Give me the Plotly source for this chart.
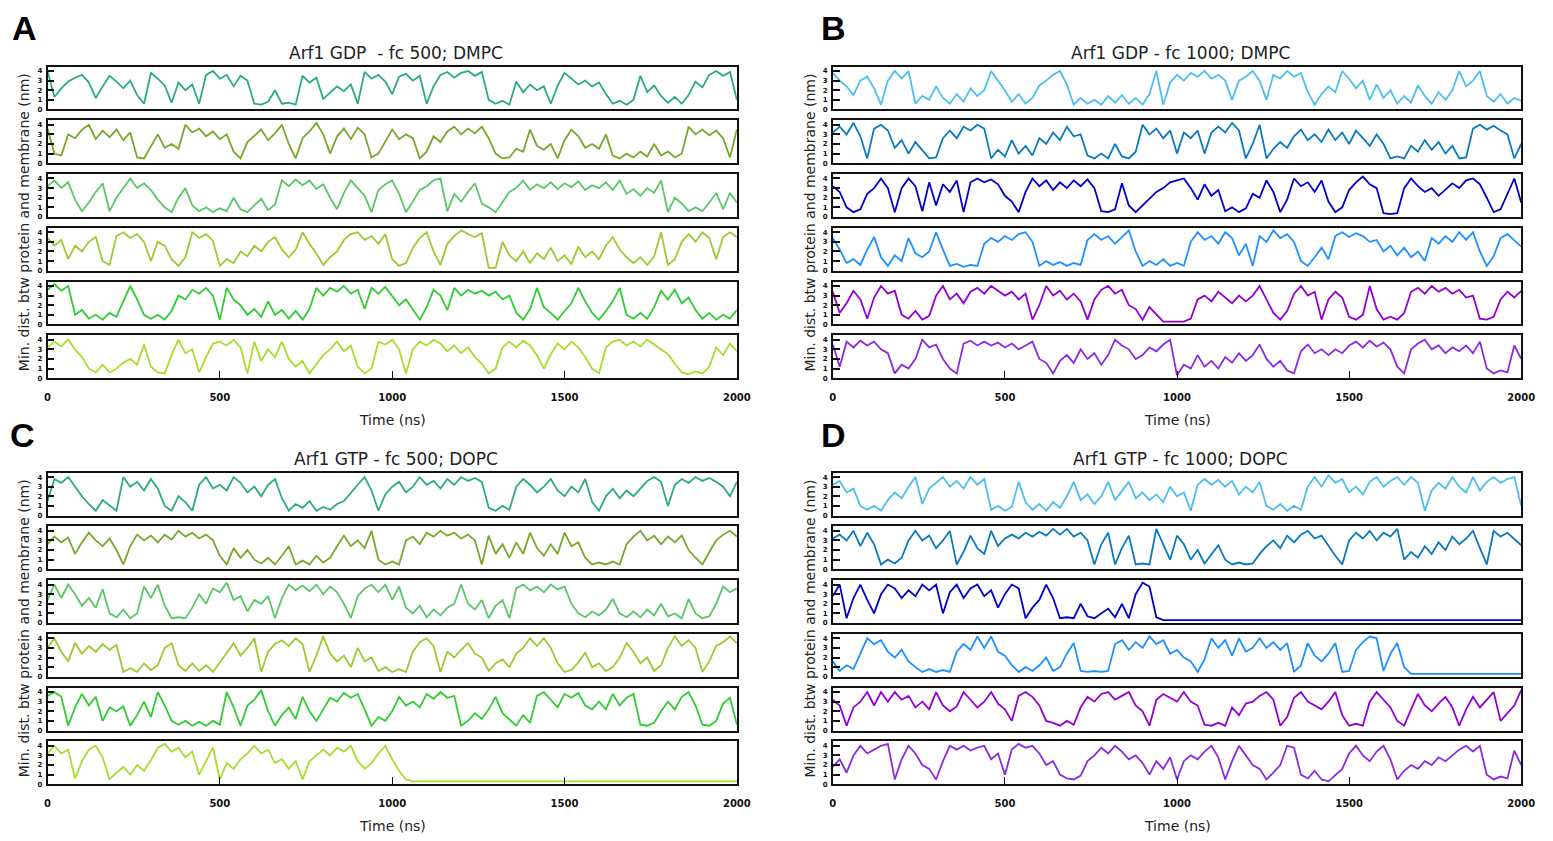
import plotly.graph_objects as go

W, H = 1553, 841

# Sampling times (ns) shared by every trajectory
time_ns = list(range(0, 2001, 20))

# ---- Arf1 GDP, fc 500, DMPC: six replicas (nm) ----
gdp500_r1 = [4.0, 1.3, 2.2, 2.9, 3.3, 3.6, 2.8, 1.2, 2.4, 3.5,
             2.9, 2.2, 3.0, 1.5, 0.6, 3.8, 3.2, 2.5, 0.7, 2.8,
             2.0, 2.6, 0.6, 3.6, 4.0, 3.2, 3.6, 2.4, 3.5, 3.0,
             0.6, 0.5, 0.8, 2.0, 0.6, 0.7, 0.5, 3.5, 2.8, 3.3,
             1.1, 1.8, 2.4, 1.9, 2.6, 0.6, 3.9, 3.2, 3.6, 2.9,
             1.6, 3.4, 3.7, 3.0, 3.5, 0.6, 2.4, 3.6, 3.9, 3.3,
             3.8, 4.0, 3.5, 3.9, 1.0, 0.6, 0.9, 0.5, 2.9, 1.8,
             2.6, 2.0, 2.4, 0.6, 2.5, 3.8, 3.2, 2.6, 3.0, 2.4,
             2.8, 1.6, 0.6, 0.9, 0.5, 1.0, 3.5, 1.8, 2.5, 1.4,
             0.7, 1.3, 0.6, 1.5, 2.9, 2.3, 3.6, 4.0, 3.5, 3.9,
             1.0]
gdp500_r2 = [3.6, 1.0, 0.8, 3.0, 2.6, 3.5, 4.0, 2.5, 3.4, 2.7,
             3.5, 2.4, 3.2, 0.6, 0.5, 1.8, 3.0, 1.6, 2.0, 1.5,
             4.0, 3.2, 3.6, 2.8, 3.3, 2.5, 3.0, 1.2, 0.5, 2.2,
             2.8, 3.5, 2.4, 3.1, 4.0, 2.0, 0.5, 2.6, 3.3, 4.2,
             3.0, 1.0, 2.8, 3.6, 2.5, 3.7, 3.0, 0.6, 1.0, 2.2,
             3.5, 2.5, 3.0, 2.6, 0.5, 1.2, 2.8, 2.2, 3.3, 3.8,
             3.0, 3.6, 3.1, 3.8, 2.6, 1.0, 0.5, 0.6, 1.5, 1.2,
             3.5, 1.8, 1.4, 2.0, 0.5, 2.4, 3.5, 2.8, 1.6, 2.0,
             1.5, 3.0, 0.8, 0.5, 1.0, 0.6, 1.2, 0.7, 2.0, 0.8,
             1.2, 0.6, 1.0, 3.8, 3.0, 3.5, 2.9, 3.4, 2.6, 0.6,
             3.5]
gdp500_r3 = [3.2, 3.8, 3.0, 3.6, 1.8, 0.6, 1.5, 2.6, 3.5, 0.6,
             2.0, 3.0, 4.0, 3.0, 3.5, 2.8, 1.8, 1.0, 0.5, 2.0,
             3.0, 1.2, 0.6, 1.0, 0.5, 0.9, 0.6, 2.0, 0.8, 0.5,
             1.2, 1.9, 0.7, 1.3, 3.8, 3.2, 3.9, 3.3, 3.8, 2.9,
             3.4, 2.0, 0.8, 2.5, 3.8, 3.0, 2.2, 0.5, 2.8, 3.4,
             3.8, 2.4, 0.5, 1.6, 2.8, 3.2, 3.8, 4.0, 0.6, 2.4,
             1.6, 2.6, 3.5, 1.4, 1.0, 0.5, 1.5, 2.6, 3.0, 3.8,
             2.8, 3.4, 3.0, 3.6, 2.9, 3.5, 3.1, 3.7, 2.8, 3.3,
             3.0, 3.6, 2.8, 3.8, 2.4, 2.9, 2.2, 3.0, 2.5, 3.8,
             0.5, 2.0, 1.4, 0.6, 1.0, 0.6, 1.5, 2.5, 0.8, 2.5,
             1.5]
gdp500_r4 = [3.4, 2.6, 3.2, 1.2, 2.6, 2.0, 3.0, 3.5, 1.0, 0.6,
             3.6, 4.0, 3.4, 3.8, 3.0, 1.0, 3.0, 2.6, 1.2, 0.5,
             1.4, 4.0, 3.4, 3.8, 3.1, 0.5, 1.2, 0.8, 2.0, 1.5,
             2.6, 2.0, 3.0, 3.5, 2.2, 1.4, 2.2, 4.0, 2.8, 1.8,
             0.6, 1.4, 2.0, 3.2, 3.8, 4.0, 3.2, 3.6, 2.8, 3.8,
             1.2, 0.5, 0.8, 2.4, 3.4, 4.0, 2.0, 0.6, 2.8, 3.6,
             4.2, 3.8, 3.5, 3.9, 0.3, 0.3, 3.0, 1.6, 1.0, 2.0,
             0.8, 1.8, 1.2, 2.4, 1.0, 1.6, 0.7, 2.5, 1.4, 2.0,
             1.2, 2.6, 3.5, 2.2, 1.4, 0.8, 1.4, 0.6, 1.5, 4.0,
             0.6, 1.2, 3.0, 3.8, 3.0, 4.0, 3.4, 1.2, 3.5, 4.0,
             3.5]
gdp500_r5 = [3.6, 4.2, 3.5, 4.0, 1.0, 1.5, 0.6, 1.0, 0.5, 1.2,
             0.8, 2.5, 4.0, 2.6, 1.0, 0.6, 1.0, 0.5, 1.4, 3.0,
             2.6, 3.6, 3.2, 3.8, 3.0, 0.5, 3.8, 2.6, 2.0, 1.0,
             1.6, 0.8, 2.4, 1.0, 1.5, 0.6, 1.4, 0.5, 1.6, 3.8,
             3.0, 3.8, 3.4, 4.0, 3.2, 3.6, 1.6, 3.8, 3.2, 3.9,
             3.0, 2.0, 2.6, 1.5, 0.5, 1.8, 3.6, 3.0, 1.5, 3.8,
             3.0, 3.6, 3.2, 3.5, 3.0, 3.4, 2.6, 3.0, 1.2, 0.5,
             1.6, 3.8, 1.8, 1.2, 0.5, 1.4, 2.2, 3.8, 2.4, 1.2,
             0.5, 1.4, 2.4, 3.8, 1.0, 0.6, 1.2, 0.6, 1.8, 3.5,
             2.6, 3.6, 2.2, 2.8, 1.5, 0.6, 1.2, 0.5, 1.0, 0.6,
             1.5]
gdp500_r6 = [3.2, 3.8, 3.3, 4.0, 3.0, 2.2, 1.0, 0.6, 1.4, 0.6,
             1.0, 1.6, 2.0, 1.4, 3.5, 1.2, 0.6, 0.5, 2.4, 4.0,
             2.6, 3.0, 0.6, 2.2, 3.6, 3.8, 3.4, 4.0, 3.2, 0.5,
             3.8, 1.8, 3.0, 2.2, 3.8, 2.0, 1.2, 1.8, 0.5, 1.4,
             2.4, 3.0, 3.8, 2.8, 3.4, 1.2, 0.5, 1.0, 3.8, 3.5,
             4.0, 3.0, 0.5, 3.0, 3.8, 3.4, 4.0, 3.6, 2.8, 3.4,
             2.6, 3.2, 2.2, 1.5, 0.5, 1.0, 3.2, 3.8, 3.2, 3.9,
             3.4, 2.4, 1.0, 2.5, 3.6, 3.0, 3.8, 3.2, 2.2, 1.0,
             0.5, 3.2, 3.8, 4.0, 3.4, 3.8, 3.3, 4.0, 3.5, 3.0,
             2.5, 1.5, 0.6, 0.4, 0.7, 0.5, 1.2, 3.2, 2.4, 3.6,
             2.8]

# ---- Arf1 GDP, fc 1000, DMPC ----
gdp1000_r1 = [3.8, 3.0, 2.4, 1.5, 3.0, 3.4, 2.2, 0.5, 3.0, 4.0,
              3.2, 4.0, 0.6, 1.4, 1.0, 2.4, 1.2, 0.6, 1.6, 0.8,
              2.2, 1.4, 2.0, 4.0, 3.0, 2.0, 0.8, 1.6, 0.6, 1.2,
              2.5, 3.0, 3.6, 4.0, 2.6, 0.5, 1.2, 0.6, 1.0, 0.5,
              1.4, 0.7, 1.5, 0.6, 1.2, 0.5, 1.6, 4.0, 0.5, 2.8,
              3.6, 3.0, 3.8, 3.4, 4.0, 3.2, 3.6, 3.0, 1.0, 3.0,
              3.4, 4.0, 3.0, 1.0, 3.6, 3.2, 4.0, 3.4, 3.8, 1.8,
              0.5, 1.6, 2.4, 1.8, 4.0, 3.2, 2.2, 3.0, 1.0, 2.6,
              1.2, 2.0, 0.6, 1.4, 0.7, 2.5, 1.4, 0.6, 1.8, 1.0,
              2.0, 4.0, 2.4, 3.0, 4.0, 1.4, 0.8, 1.6, 0.6, 1.2,
              0.9]
gdp1000_r2 = [3.2, 3.8, 3.0, 4.2, 2.8, 0.5, 3.6, 4.0, 3.4, 1.6,
              2.4, 1.0, 2.2, 1.4, 0.5, 0.6, 2.6, 3.4, 2.6, 3.8,
              3.4, 4.0, 3.6, 0.5, 1.4, 0.7, 2.4, 1.0, 1.8, 0.8,
              2.6, 2.0, 3.2, 2.4, 3.8, 2.8, 3.0, 0.8, 0.5, 1.0,
              0.5, 2.0, 0.7, 0.5, 1.2, 4.0, 3.0, 3.6, 2.6, 3.4,
              1.0, 3.2, 2.6, 3.4, 1.0, 3.2, 3.8, 3.2, 4.2, 3.4,
              0.5, 2.0, 4.0, 0.5, 1.5, 2.2, 1.6, 2.8, 3.5, 2.4,
              3.0, 2.2, 3.5, 2.4, 3.2, 2.0, 3.4, 2.6, 1.8, 3.0,
              2.0, 0.5, 0.7, 0.5, 1.8, 1.2, 2.4, 1.4, 2.2, 1.0,
              1.8, 0.5, 0.6, 3.6, 4.0, 3.5, 3.9, 3.4, 3.0, 0.5,
              2.0]
gdp1000_r3 = [3.2, 2.6, 1.0, 0.5, 0.8, 2.4, 3.0, 4.0, 3.0, 0.5,
              3.0, 4.0, 3.2, 0.6, 3.6, 1.2, 3.4, 2.6, 3.8, 0.5,
              3.6, 4.0, 3.6, 3.9, 3.4, 2.2, 1.6, 0.5, 2.6, 4.0,
              3.2, 3.8, 2.8, 3.6, 3.0, 3.8, 3.2, 3.9, 3.0, 0.6,
              0.5, 0.8, 3.5, 1.2, 0.5, 1.2, 2.0, 2.6, 3.0, 3.6,
              3.8, 4.0, 3.0, 1.8, 3.4, 2.2, 2.8, 0.6, 1.0, 0.5,
              0.9, 2.4, 2.0, 3.8, 2.6, 0.5, 1.8, 4.0, 3.2, 3.6,
              2.6, 3.8, 1.6, 0.5, 1.0, 2.8, 3.6, 4.2, 3.4, 3.0,
              0.4, 0.3, 0.4, 3.0, 4.0, 3.2, 2.6, 3.0, 2.2, 2.8,
              3.5, 3.0, 3.8, 4.0, 3.4, 2.0, 0.5, 0.8, 2.4, 4.0,
              1.5]
gdp1000_r4 = [3.4, 2.2, 0.8, 1.2, 0.6, 2.2, 3.5, 1.4, 0.5, 1.6,
              1.0, 3.4, 1.8, 1.4, 2.0, 4.0, 2.2, 0.5, 0.7, 0.4,
              0.6, 0.5, 2.8, 3.4, 3.0, 3.6, 3.2, 3.8, 4.0, 3.0,
              0.5, 1.0, 0.6, 0.9, 0.5, 0.8, 0.6, 3.2, 3.8, 3.2,
              3.6, 2.8, 3.5, 4.2, 2.0, 0.5, 1.0, 0.6, 1.2, 0.5,
              0.8, 0.5, 3.0, 4.0, 3.2, 3.6, 2.8, 4.0, 3.4, 1.6,
              2.8, 0.5, 3.6, 3.0, 4.2, 3.4, 3.8, 3.0, 1.0, 0.5,
              1.4, 2.4, 1.2, 3.6, 4.0, 3.5, 3.9, 3.6, 3.0, 3.2,
              2.0, 2.6, 1.6, 2.4, 1.4, 2.0, 1.0, 3.4, 2.8, 3.6,
              3.0, 4.0, 3.2, 4.0, 2.0, 0.5, 1.5, 3.4, 3.8, 3.2,
              2.5]
gdp1000_r5 = [3.4, 1.2, 2.2, 3.5, 2.6, 0.6, 2.8, 4.0, 3.2, 3.5,
              1.0, 0.6, 1.4, 0.5, 0.9, 3.0, 4.0, 2.6, 3.2, 2.2,
              3.4, 3.8, 3.2, 4.0, 3.5, 3.0, 3.4, 2.6, 3.2, 0.5,
              2.0, 4.0, 3.0, 3.5, 2.6, 3.2, 2.4, 0.5, 2.6, 3.6,
              4.0, 3.2, 3.6, 2.0, 1.6, 0.5, 1.8, 1.0, 0.3, 0.3,
              0.3, 0.3, 0.6, 2.6, 3.0, 2.4, 3.4, 2.8, 2.2, 3.0,
              2.4, 3.0, 4.0, 2.6, 1.2, 0.5, 1.4, 3.2, 4.0, 3.0,
              3.4, 0.5, 2.6, 3.4, 2.8, 0.8, 0.5, 1.0, 4.0, 1.6,
              0.5, 0.8, 0.5, 1.2, 3.4, 3.8, 3.2, 4.0, 3.4, 3.8,
              3.2, 3.6, 2.8, 3.0, 0.6, 0.5, 0.8, 2.6, 3.4, 2.8,
              3.5]
gdp1000_r6 = [3.5, 1.2, 3.8, 3.2, 3.9, 3.4, 3.8, 3.0, 2.6, 0.5,
              1.4, 1.0, 2.0, 4.0, 3.2, 3.5, 2.0, 1.0, 0.5, 3.6,
              3.9, 3.4, 3.8, 3.4, 3.7, 3.2, 3.6, 3.0, 3.4, 3.8,
              2.0, 1.6, 0.5, 1.8, 2.4, 1.6, 3.0, 2.0, 2.6, 1.4,
              2.4, 4.0, 3.4, 3.0, 2.0, 2.4, 3.2, 2.8, 3.5, 4.0,
              0.3, 1.4, 1.0, 2.4, 1.2, 1.8, 1.0, 2.2, 1.6, 2.6,
              1.8, 2.4, 3.5, 2.0, 1.2, 1.8, 0.8, 0.5, 2.8, 3.5,
              2.6, 3.0, 2.4, 3.0, 2.6, 3.4, 3.8, 3.2, 3.9, 3.3,
              3.7, 3.0, 1.2, 0.5, 3.0, 3.6, 4.0, 3.0, 3.4, 2.6,
              3.2, 2.8, 3.4, 2.6, 3.8, 1.0, 0.5, 0.8, 0.6, 3.4,
              2.0]

# ---- Arf1 GTP, fc 500, DOPC ----
gtp500_r1 = [1.5, 3.8, 3.4, 4.0, 3.0, 2.0, 1.2, 0.5, 1.6, 1.0,
             0.5, 4.0, 3.0, 3.5, 2.6, 3.8, 2.8, 1.0, 0.5, 2.0,
             1.4, 0.5, 3.2, 4.0, 2.8, 3.2, 2.6, 4.0, 3.4, 2.4,
             3.0, 2.0, 3.2, 3.8, 1.8, 0.5, 1.2, 0.8, 1.5, 0.5,
             0.9, 0.6, 1.2, 1.5, 2.4, 3.2, 4.0, 2.6, 0.5, 2.2,
             3.0, 3.5, 2.4, 3.0, 4.0, 3.2, 3.6, 2.8, 3.8, 3.2,
             4.0, 3.6, 3.9, 3.5, 0.8, 0.5, 1.0, 0.6, 3.0, 3.8,
             3.2, 2.4, 3.0, 3.8, 2.6, 2.0, 3.0, 2.4, 3.8, 1.4,
             0.5, 2.0, 2.8, 1.8, 2.6, 2.0, 2.8, 3.6, 4.0, 3.5,
             1.0, 3.2, 3.8, 3.4, 4.0, 3.6, 3.9, 3.5, 3.0, 2.0,
             3.5]
gtp500_r2 = [2.6, 3.4, 2.8, 3.3, 1.6, 2.8, 3.8, 3.0, 2.4, 3.2,
             2.0, 0.5, 2.4, 3.6, 3.0, 3.5, 2.8, 3.6, 3.1, 4.0,
             3.4, 3.8, 3.2, 3.6, 3.0, 1.4, 0.5, 2.2, 1.2, 2.0,
             1.0, 0.6, 1.2, 0.5, 1.4, 2.4, 0.5, 0.9, 0.5, 1.4,
             0.7, 1.2, 2.4, 3.5, 2.4, 3.0, 2.2, 4.0, 1.0, 0.5,
             0.8, 0.5, 3.0, 3.4, 2.6, 3.8, 3.4, 4.0, 3.5, 3.8,
             3.2, 3.6, 3.0, 0.5, 3.5, 1.6, 2.6, 1.2, 2.8, 1.6,
             3.8, 2.2, 1.4, 2.6, 1.6, 3.8, 2.4, 2.8, 1.2, 0.5,
             0.7, 0.5, 0.8, 0.5, 2.6, 3.4, 4.0, 3.0, 3.5, 2.6,
             3.4, 2.8, 3.5, 2.0, 1.2, 0.5, 1.8, 3.0, 3.6, 4.0,
             3.4]
gtp500_r3 = [2.4, 4.0, 2.6, 4.0, 3.0, 1.8, 2.6, 1.6, 3.5, 1.0,
             0.6, 1.4, 0.5, 1.0, 3.8, 2.6, 4.0, 1.8, 0.5, 0.6,
             0.5, 1.6, 3.0, 2.0, 3.6, 3.2, 4.2, 2.4, 2.8, 1.2,
             2.4, 2.0, 2.8, 0.5, 2.6, 4.0, 3.4, 3.9, 3.3, 4.0,
             3.0, 3.8, 3.2, 2.0, 0.5, 2.8, 3.6, 4.0, 3.2, 4.0,
             2.4, 3.8, 1.6, 1.0, 1.8, 0.6, 1.4, 0.8, 1.6, 2.0,
             4.0, 2.0, 1.4, 2.4, 0.5, 1.8, 2.4, 0.5, 3.6, 4.0,
             3.4, 3.8, 3.2, 4.0, 3.5, 3.8, 2.0, 1.0, 0.6, 1.2,
             0.8, 1.4, 2.5, 1.0, 0.6, 1.2, 0.6, 1.4, 0.8, 2.0,
             0.7, 1.0, 0.5, 2.5, 1.0, 0.5, 0.7, 2.0, 3.8, 3.2,
             3.6]
gtp500_r4 = [3.0, 4.0, 2.6, 1.6, 3.5, 2.4, 3.2, 2.6, 3.4, 2.8,
             3.3, 0.5, 0.9, 0.5, 1.4, 0.7, 1.2, 3.0, 3.5, 1.2,
             0.6, 1.4, 0.6, 1.2, 0.5, 1.5, 2.6, 3.5, 2.2, 3.0,
             4.0, 0.5, 2.6, 3.4, 3.8, 3.2, 4.0, 3.4, 0.5, 2.2,
             4.2, 2.4, 1.6, 2.2, 1.0, 3.0, 1.6, 2.0, 0.6, 1.0,
             0.5, 0.8, 0.5, 2.6, 3.6, 4.0, 3.2, 0.5, 2.6, 2.0,
             2.8, 3.5, 2.4, 2.0, 0.6, 1.4, 1.8, 1.0, 2.4, 3.0,
             4.0, 3.2, 4.0, 3.0, 1.4, 0.5, 0.7, 1.5, 2.5, 1.0,
             1.4, 0.6, 1.0, 2.0, 3.5, 2.6, 1.4, 2.0, 0.6, 1.2,
             3.0, 4.2, 3.2, 3.8, 3.0, 0.5, 1.6, 3.2, 3.6, 4.2,
             3.5]
gtp500_r5 = [3.6, 4.0, 3.5, 0.5, 2.4, 3.8, 2.6, 3.5, 1.0, 2.4,
             2.0, 2.5, 0.5, 1.6, 3.0, 1.4, 4.0, 2.6, 1.0, 0.6,
             1.0, 0.5, 0.9, 0.5, 1.0, 0.6, 4.0, 2.4, 0.5, 2.6,
             3.2, 4.2, 2.0, 0.5, 1.6, 2.4, 1.2, 3.5, 2.0, 1.0,
             2.2, 3.4, 3.0, 3.9, 3.4, 3.8, 2.2, 0.5, 1.4, 1.0,
             2.0, 3.5, 2.6, 3.0, 2.4, 3.8, 3.3, 4.0, 3.4, 3.6,
             0.5, 1.0, 1.8, 1.2, 2.2, 3.5, 1.8, 1.2, 0.5, 1.6,
             0.8, 3.6, 4.0, 3.2, 2.4, 3.8, 3.4, 3.9, 2.6, 2.2,
             3.0, 2.2, 3.8, 2.6, 3.4, 3.8, 0.6, 0.5, 0.8, 2.0,
             3.0, 2.2, 3.5, 4.0, 2.6, 0.6, 0.5, 1.0, 2.8, 3.4,
             0.6]
gtp500_r6 = [3.2, 4.0, 3.2, 3.6, 0.6, 2.4, 3.6, 4.0, 2.8, 0.5,
             1.2, 1.8, 1.0, 2.0, 1.4, 2.5, 3.8, 4.2, 3.4, 3.8,
             2.8, 3.4, 1.0, 2.4, 3.8, 0.5, 2.2, 1.6, 2.6, 3.2,
             4.0, 3.2, 3.6, 2.2, 2.6, 1.6, 2.4, 0.5, 2.4, 3.0,
             3.6, 3.0, 3.8, 3.4, 4.0, 2.4, 1.6, 2.2, 3.2, 4.0,
             2.6, 1.4, 0.5, 0.3, 0.3, 0.3, 0.3, 0.3, 0.3, 0.3,
             0.3, 0.3, 0.3, 0.3, 0.3, 0.3, 0.3, 0.3, 0.3, 0.3,
             0.3, 0.3, 0.3, 0.3, 0.3, 0.3, 0.3, 0.3, 0.3, 0.3,
             0.3, 0.3, 0.3, 0.3, 0.3, 0.3, 0.3, 0.3, 0.3, 0.3,
             0.3, 0.3, 0.3, 0.3, 0.3, 0.3, 0.3, 0.3, 0.3, 0.3,
             0.3]

# ---- Arf1 GTP, fc 1000, DOPC ----
gtp1000_r1 = [3.2, 3.6, 2.4, 2.8, 1.0, 0.6, 1.0, 0.5, 1.6, 2.4,
              1.8, 3.0, 4.0, 1.2, 2.8, 3.4, 4.0, 3.0, 3.6, 2.8,
              4.0, 3.2, 3.8, 0.6, 1.0, 0.5, 0.9, 3.5, 1.4, 0.6,
              1.2, 0.5, 1.4, 0.8, 2.0, 3.5, 1.6, 2.2, 1.2, 2.0,
              3.5, 1.6, 2.6, 3.5, 1.8, 2.4, 1.6, 2.2, 1.4, 3.0,
              2.0, 2.4, 0.5, 3.2, 3.8, 3.2, 3.7, 3.0, 3.6, 2.2,
              3.0, 2.4, 3.5, 1.0, 0.6, 1.2, 0.5, 1.0, 0.6, 3.0,
              4.0, 3.0, 4.2, 3.4, 3.8, 2.4, 3.0, 2.2, 3.5, 4.0,
              3.0, 3.6, 4.0, 3.2, 4.0, 3.4, 0.5, 2.6, 3.4, 2.8,
              4.0, 3.0, 2.4, 4.0, 2.6, 3.5, 4.0, 3.4, 3.8, 4.0,
              1.0]
gtp1000_r2 = [3.2, 3.6, 3.0, 4.0, 2.4, 3.8, 2.6, 0.5, 1.0, 0.6,
              1.2, 3.0, 4.0, 3.0, 3.5, 2.2, 3.0, 4.0, 0.5, 1.8,
              3.5, 2.2, 1.6, 4.0, 2.4, 3.2, 3.6, 3.2, 3.8, 3.4,
              3.9, 3.5, 4.2, 3.6, 4.2, 3.4, 3.8, 3.0, 0.5, 2.6,
              3.8, 0.5, 2.2, 3.5, 0.5, 0.6, 0.5, 4.2, 2.6, 1.0,
              3.5, 2.6, 1.0, 2.0, 0.6, 1.6, 2.5, 1.0, 0.5, 0.7,
              0.5, 0.6, 1.6, 2.4, 3.0, 2.2, 3.5, 2.8, 3.6, 4.0,
              3.2, 3.5, 2.4, 1.4, 0.5, 3.0, 3.8, 3.2, 4.0, 3.0,
              3.8, 3.4, 4.2, 1.0, 1.8, 1.2, 2.4, 1.6, 2.8, 2.0,
              3.4, 2.6, 3.2, 4.0, 2.2, 0.5, 4.0, 3.4, 3.8, 3.2,
              2.5]
gtp1000_r3 = [2.8, 4.0, 0.5, 2.6, 4.0, 2.4, 1.0, 3.0, 4.0, 3.6,
              2.6, 3.4, 2.8, 4.0, 3.4, 4.0, 1.0, 3.2, 4.0, 2.6,
              3.6, 4.0, 2.8, 3.4, 1.6, 3.0, 4.0, 3.6, 0.5, 1.6,
              2.4, 4.0, 2.6, 0.5, 0.6, 0.5, 2.0, 0.7, 0.5, 1.0,
              1.5, 0.6, 2.0, 0.5, 3.0, 4.2, 3.8, 0.6, 0.3, 0.3,
              0.3, 0.3, 0.3, 0.3, 0.3, 0.3, 0.3, 0.3, 0.3, 0.3,
              0.3, 0.3, 0.3, 0.3, 0.3, 0.3, 0.3, 0.3, 0.3, 0.3,
              0.3, 0.3, 0.3, 0.3, 0.3, 0.3, 0.3, 0.3, 0.3, 0.3,
              0.3, 0.3, 0.3, 0.3, 0.3, 0.3, 0.3, 0.3, 0.3, 0.3,
              0.3, 0.3, 0.3, 0.3, 0.3, 0.3, 0.3, 0.3, 0.3, 0.3,
              0.3]
gtp1000_r4 = [1.6, 0.6, 1.2, 0.8, 2.4, 4.0, 3.4, 3.8, 2.6, 2.0,
              2.8, 1.6, 1.0, 0.5, 0.8, 0.5, 0.7, 0.5, 2.6, 3.4,
              2.8, 4.2, 3.0, 4.2, 2.6, 2.2, 1.2, 0.5, 1.0, 0.6,
              1.2, 2.0, 0.6, 1.0, 2.4, 3.5, 0.6, 0.5, 0.6, 0.5,
              0.6, 3.4, 3.8, 2.8, 3.6, 3.0, 4.2, 3.4, 3.8, 2.4,
              2.8, 2.0, 1.6, 0.5, 1.8, 4.0, 3.0, 3.8, 2.2, 4.0,
              2.6, 3.0, 4.0, 3.0, 3.6, 2.8, 3.5, 0.5, 1.2, 3.5,
              2.2, 1.6, 2.4, 3.5, 0.5, 0.6, 2.8, 3.6, 4.2, 4.0,
              0.6, 2.4, 3.5, 1.0, 0.3, 0.3, 0.3, 0.3, 0.3, 0.3,
              0.3, 0.3, 0.3, 0.3, 0.3, 0.3, 0.3, 0.3, 0.3, 0.3,
              0.3]
gtp1000_r5 = [3.2, 2.6, 0.5, 2.4, 3.0, 4.0, 2.6, 4.0, 3.0, 4.0,
              3.2, 3.6, 2.4, 3.0, 2.2, 4.0, 2.6, 2.0, 2.5, 4.0,
              3.2, 2.4, 3.0, 4.0, 2.8, 2.2, 1.0, 3.6, 4.0, 3.5,
              2.6, 1.0, 0.8, 0.5, 1.0, 0.6, 2.4, 3.5, 3.0, 3.8,
              4.0, 3.2, 3.6, 4.0, 2.6, 2.0, 0.5, 3.2, 3.8, 3.4,
              3.0, 4.0, 3.0, 2.6, 0.6, 0.5, 0.8, 0.5, 2.4, 1.6,
              2.8, 3.0, 3.6, 4.0, 3.2, 0.5, 1.4, 3.4, 4.0, 3.0,
              2.6, 2.2, 3.0, 4.0, 1.6, 0.5, 0.7, 0.5, 3.0, 4.0,
              3.2, 2.4, 1.0, 0.5, 2.2, 3.8, 2.6, 2.0, 2.8, 3.5,
              2.4, 0.5, 2.2, 3.5, 2.4, 3.2, 4.0, 1.0, 1.8, 2.6,
              4.2]
gtp1000_r6 = [1.8, 2.6, 1.2, 3.0, 4.0, 3.2, 3.6, 4.0, 4.2, 0.5,
              2.6, 4.0, 3.2, 2.0, 1.6, 0.5, 2.4, 4.0, 3.6, 4.0,
              3.5, 3.8, 4.0, 2.6, 3.2, 1.0, 3.6, 4.2, 3.8, 4.0,
              3.2, 2.0, 2.4, 1.0, 0.6, 0.5, 0.9, 2.4, 3.0, 3.8,
              3.2, 4.0, 3.4, 2.6, 3.0, 2.2, 1.0, 2.4, 1.6, 2.8,
              0.5, 2.4, 3.0, 2.6, 3.4, 4.0, 2.8, 0.5, 2.4, 4.0,
              3.0, 2.0, 1.6, 0.5, 1.2, 2.0, 4.0, 3.8, 1.0, 0.6,
              1.4, 0.5, 0.3, 1.0, 1.6, 3.2, 4.0, 3.0, 2.4, 3.4,
              4.0, 2.6, 0.5, 1.4, 2.0, 1.6, 2.4, 2.0, 2.8, 2.4,
              3.0, 3.6, 4.0, 3.4, 4.0, 1.0, 0.5, 0.8, 0.6, 3.5,
              2.0]

green_colors = ["#2aab83", "#78a82b", "#5ac767", "#9cca30", "#2fcc32", "#a8dc2d"]
blue_colors = ["#4cbfee", "#0a7abe", "#0000cc", "#1e90ff", "#9400d3", "#8a2be2"]

panels = [
    dict(letter="A", letter_xy=(22, 28), title="Arf1 GDP  - fc 500; DMPC",
         runs=[gdp500_r1, gdp500_r2, gdp500_r3, gdp500_r4, gdp500_r5, gdp500_r6],
         colors=green_colors, left=45, right=742, top=67),
    dict(letter="B", letter_xy=(840, 28), title="Arf1 GDP - fc 1000; DMPC",
         runs=[gdp1000_r1, gdp1000_r2, gdp1000_r3, gdp1000_r4, gdp1000_r5, gdp1000_r6],
         colors=blue_colors, left=839, right=1535, top=67),
    dict(letter="C", letter_xy=(20, 437), title="Arf1 GTP - fc 500; DOPC",
         runs=[gtp500_r1, gtp500_r2, gtp500_r3, gtp500_r4, gtp500_r5, gtp500_r6],
         colors=green_colors, left=45, right=742, top=475),
    dict(letter="D", letter_xy=(840, 437), title="Arf1 GTP - fc 1000; DOPC",
         runs=[gtp1000_r1, gtp1000_r2, gtp1000_r3, gtp1000_r4, gtp1000_r5, gtp1000_r6],
         colors=blue_colors, left=839, right=1535, top=475),
]

ROW_STEP, ROW_H = 54, 43
Y_MAX = 4.45


def px_x(x):
    return x / W


def px_y(y):
    return 1 - y / H


fig = go.Figure()
layout_axes = {}
annotations = []
n = 0
for p in panels:
    for i, (vals, col) in enumerate(zip(p["runs"], p["colors"])):
        assert len(vals) == len(time_ns), (p["letter"], i, len(vals))
        n += 1
        suffix = "" if n == 1 else str(n)
        top = p["top"] + ROW_STEP * i
        bottom = top + ROW_H
        last = i == len(p["runs"]) - 1
        fig.add_trace(go.Scatter(
            x=time_ns, y=vals, mode="lines",
            line=dict(color=col, width=1.8),
            xaxis="x" + suffix, yaxis="y" + suffix,
            showlegend=False, hoverinfo="skip"))
        layout_axes["xaxis" + suffix] = dict(
            domain=[px_x(p["left"]), px_x(p["right"])], anchor="y" + suffix,
            range=[0, 2000], showgrid=False, zeroline=False,
            showline=True, mirror=True, linecolor="#111", linewidth=1.6,
            ticks="inside" if last else "", ticklen=7, tickwidth=1.4, tickcolor="#111",
            tickvals=[0, 500, 1000, 1500, 2000], showticklabels=last,
            ticklabelstandoff=9,
            tickfont=dict(family="DejaVu Sans", size=10, color="#111", weight="bold"))
        layout_axes["yaxis" + suffix] = dict(
            domain=[px_y(bottom), px_y(top)], anchor="x" + suffix,
            range=[0, Y_MAX], showgrid=False, zeroline=False,
            showline=True, mirror=True, linecolor="#111", linewidth=1.6,
            ticks="inside", ticklen=7, tickwidth=1.5, tickcolor="#111",
            tickvals=[0, 1, 2, 3, 4], ticklabelstandoff=2,
            tickfont=dict(family="DejaVu Sans", size=7, color="#111", weight="bold"))

    mid_x = (p["left"] + p["right"]) / 2
    y_top, y_bot = p["top"], p["top"] + ROW_STEP * 5 + ROW_H
    lx, ly = p["letter_xy"]
    annotations += [
        dict(text=p["letter"], x=px_x(lx), y=px_y(ly),
             font=dict(family="Liberation Sans", size=34, color="black", weight="bold")),
        dict(text=p["title"], x=px_x(mid_x + 4), y=px_y(p["top"] - 14),
             font=dict(family="DejaVu Sans", size=17, color="#222")),
        dict(text="Time (ns)", x=px_x(mid_x), y=px_y(y_bot + 42),
             font=dict(family="DejaVu Sans", size=14, color="#222")),
        dict(text="Min. dist. btw protein and membrane (nm)", textangle=-90,
             x=px_x(p["left"] - 23), y=px_y((y_top + y_bot) / 2),
             font=dict(family="DejaVu Sans", size=14, color="#222")),
    ]

for a in annotations:
    a.update(xref="paper", yref="paper", showarrow=False,
             xanchor="center", yanchor="middle")

fig.update_layout(
    width=W, height=H, margin=dict(l=0, r=0, t=0, b=0),
    paper_bgcolor="white", plot_bgcolor="white",
    annotations=annotations, **layout_axes)

fig.write_html("out.html")
